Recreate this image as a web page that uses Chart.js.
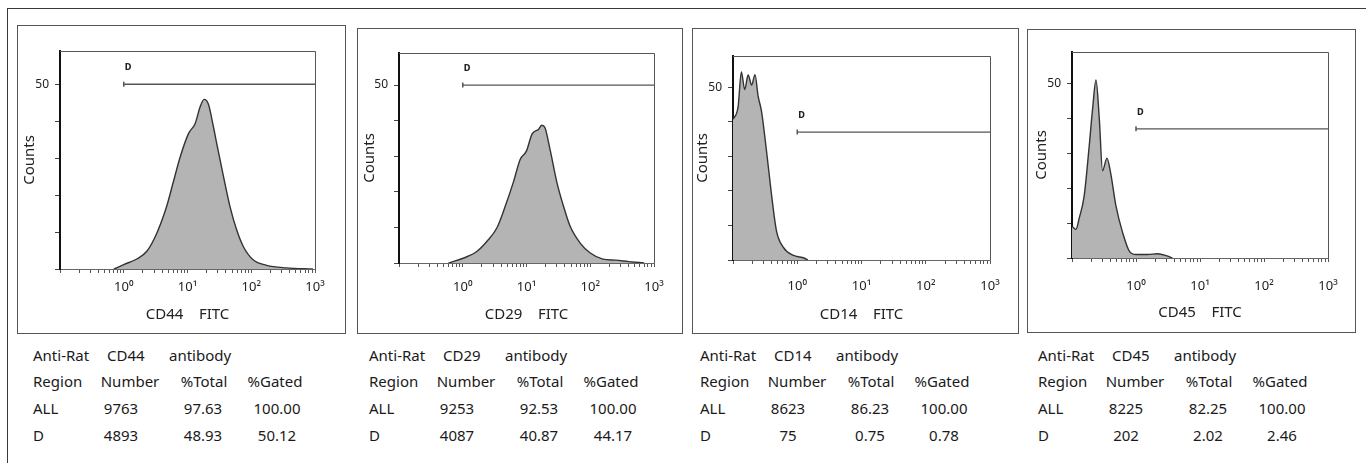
<!DOCTYPE html>
<html>
<head>
<meta charset="utf-8">
<script src="https://cdn.jsdelivr.net/npm/chart.js@4.4.1/dist/chart.umd.min.js"></script>
<style>
  html, body { margin: 0; padding: 0; background: #fff; }
  body { width: 1366px; height: 463px; overflow: hidden; position: relative; font-family: "Noto Sans", sans-serif; color: #1a1a1a; }
  .outer { position: absolute; left: 7px; top: 8px; width: 1400px; height: 500px; border: 1px solid #3a3a3a; box-sizing: border-box; }
  .box { position: absolute; border: 1px solid #555; box-sizing: border-box; }
  canvas { position: absolute; }
  .cell { position: absolute; font-size: 15px; line-height: 20px; white-space: nowrap; }
  .mid { transform: translateX(-50%); }
</style>
</head>
<body>
<div class="outer"></div>
<div id="root"></div>
<script>
// ---- data ----
const markers = ['CD44', 'CD29', 'CD14', 'CD45'];
const gateLevel = [50, 50, 37, 37];

const cd44X = [0.7, 1.0, 1.6, 2.3, 3.3, 4.7, 6.0, 7.7, 10.4, 13.2, 15.8, 18.2, 21.3, 25.5, 28.7, 36.5, 46.4, 59, 75, 107, 174, 355, 930];
const cd44Counts = [0, 1.2, 2.7, 4.8, 9.7, 16.9, 23.6, 30.4, 36.7, 39.4, 43.9, 45.9, 44.6, 38.5, 34.0, 25.2, 16.9, 10.6, 6.1, 2.5, 1.0, 0.3, 0];

const cd29X = [0.6, 1.04, 1.68, 2.4, 3.44, 4.65, 6.3, 7.95, 10, 12.2, 15.5, 17.4, 19.5, 23.4, 30, 38, 48.4, 69.5, 100, 158, 250, 400, 700];
const cd29Counts = [0, 1.4, 3.3, 6.1, 9.9, 16.0, 23.0, 29.1, 31.5, 36.2, 37.6, 38.7, 38.0, 31.9, 22.6, 16.0, 10.3, 5.6, 2.8, 1.1, 0.8, 0.4, 0];

const cd14X = [0.1, 0.12, 0.135, 0.152, 0.172, 0.195, 0.22, 0.246, 0.277, 0.332, 0.396, 0.473, 0.6, 0.857, 1.3, 1.46];
const cd14Counts = [40.7, 44.3, 54.4, 49.3, 53.5, 50.6, 53.6, 47.4, 43.1, 31.6, 19.2, 8.6, 3.8, 1.4, 0.5, 0];

const cd45X = [0.1, 0.115, 0.13, 0.155, 0.186, 0.21, 0.237, 0.267, 0.3, 0.352, 0.4, 0.486, 0.62, 0.79, 1.0, 1.52, 2.18, 2.95, 3.7];
const cd45Counts = [9.1, 8.2, 11.5, 17.8, 32.2, 42.8, 51, 39.9, 25, 28.6, 24.5, 14.9, 7.2, 1.9, 1.0, 1.0, 1.2, 0.7, 0];

const yTickValues = [0, 10, 20, 30, 40, 50];
const xDecades = [-1, 0, 1, 2];

const headers = ['Region', 'Number', '%Total', '%Gated'];
const allNumber = ['9763', '9253', '8623', '8225'];
const allTotal = ['97.63', '92.53', '86.23', '82.25'];
const allGated = ['100.00', '100.00', '100.00', '100.00'];
const dNumber = ['4893', '4087', '75', '202'];
const dTotal = ['48.93', '40.87', '0.75', '2.02'];
const dGated = ['50.12', '44.17', '0.78', '2.46'];

const seriesX = [cd44X, cd29X, cd14X, cd45X];
const seriesY = [cd44Counts, cd29Counts, cd14Counts, cd45Counts];

// ---- layout (pixel boxes measured on the reference) ----
const panels = [
  { box: [17, 25, 345, 333], area: [60, 51, 315, 269], labelY: 287, titleY: 315, countsX: 30, text: 33 },
  { box: [357, 28, 682, 333], area: [399, 53, 654, 263], labelY: 287, titleY: 315, countsX: 370, text: 369 },
  { box: [692, 28, 1018, 333], area: [733, 56, 990, 260], labelY: 286, titleY: 315, countsX: 703, text: 700 },
  { box: [1027, 29, 1355, 332], area: [1072, 52, 1328, 258], labelY: 286, titleY: 313, countsX: 1042, text: 1038 }
];

const sup = { '0': '\u2070', '1': '\u00B9', '2': '\u00B2', '3': '\u00B3' };
const logTicks = [];
xDecades.forEach(d => { for (let k = 1; k <= 9; k++) logTicks.push(k * Math.pow(10, d)); });
logTicks.push(1000);

const root = document.getElementById('root');

function addCell(txt, x, y, centered) {
  const s = document.createElement('span');
  s.className = 'cell' + (centered ? ' mid' : '');
  s.textContent = txt;
  s.style.left = x + 'px';
  s.style.top = (y - 10) + 'px';
  root.appendChild(s);
}

const framePlugin = {
  id: 'frame',
  afterDatasetsDraw(chart, args, opts) {
    const { ctx, chartArea: a, scales } = chart;
    ctx.save();
    ctx.strokeStyle = '#555';
    ctx.lineWidth = 1;
    ctx.beginPath();
    ctx.moveTo(a.left, a.top + 0.5);
    ctx.lineTo(a.right + 0.5, a.top + 0.5);
    ctx.lineTo(a.right + 0.5, a.bottom);
    ctx.stroke();
    ctx.fillStyle = '#222';
    ctx.font = 'bold 8px "DejaVu Sans"';
    ctx.textBaseline = 'middle';
    ctx.fillText('D', scales.x.getPixelForValue(1) + 1, scales.y.getPixelForValue(opts.gate) - 16);
    ctx.restore();
  }
};

panels.forEach((p, i) => {
  const [L, T, R, B] = p.box;
  const [aL, aT, aR, aB] = p.area;

  const box = document.createElement('div');
  box.className = 'box';
  box.style.left = L + 'px';
  box.style.top = T + 'px';
  box.style.width = (R - L + 1) + 'px';
  box.style.height = (B - T + 1) + 'px';
  root.appendChild(box);

  const cv = document.createElement('canvas');
  cv.width = R - L - 1;
  cv.height = B - T - 1;
  cv.style.left = (L + 1) + 'px';
  cv.style.top = (T + 1) + 'px';
  root.appendChild(cv);

  const pts = seriesX[i].map((x, j) => ({ x: x, y: seriesY[i][j] }));

  new Chart(cv, {
    type: 'line',
    data: {
      datasets: [
        {
          data: pts,
          borderColor: '#333',
          borderWidth: 1.4,
          backgroundColor: '#b4b4b4',
          fill: 'origin',
          pointRadius: 0,
          cubicInterpolationMode: 'monotone'
        },
        {
          data: [{ x: 1, y: gateLevel[i] }, { x: 1000, y: gateLevel[i] }],
          borderColor: '#555',
          borderWidth: 1.3,
          pointStyle: 'line',
          rotation: 90,
          pointRadius: [2.5, 0],
          pointBorderColor: '#555',
          pointBorderWidth: 1.5,
          fill: false
        }
      ]
    },
    options: {
      responsive: false,
      animation: false,
      layout: { padding: { top: aT - T - 1, right: R - aR, left: 0, bottom: 0 } },
      plugins: { legend: { display: false }, tooltip: { enabled: false }, frame: { gate: gateLevel[i] } },
      scales: {
        x: {
          type: 'logarithmic',
          min: 0.1,
          max: 1000,
          afterBuildTicks: s => { s.ticks = logTicks.map(v => ({ value: v })); },
          afterFit: s => { s.height = B - aB; },
          ticks: {
            autoSkip: false,
            maxRotation: 0,
            padding: p.labelY - aB - 4 - 7.8,
            color: '#222',
            font: { family: 'Noto Sans', size: 13 },
            callback: v => {
              const e = Math.round(Math.log10(v));
              if (e < 0 || Math.abs(v - Math.pow(10, e)) > 1e-9) return '';
              return '10' + sup[String(e)];
            }
          },
          grid: { drawOnChartArea: false, tickLength: 4, tickColor: '#555' },
          border: { color: '#666', width: 1 },
          title: {
            display: true,
            text: markers[i] + '    FITC',
            color: '#222',
            font: { family: 'Noto Sans', size: 15 },
            padding: { top: 0, bottom: B - p.titleY - 9 }
          }
        },
        y: {
          min: 0,
          max: 59,
          afterBuildTicks: s => { s.ticks = yTickValues.map(v => ({ value: v })); },
          afterFit: s => { s.width = aL - L - 1; },
          ticks: {
            padding: 6,
            color: '#222',
            font: { family: 'Noto Sans', size: 12 },
            callback: v => (v === 50 ? '50' : '')
          },
          grid: { drawOnChartArea: false, tickLength: 5, tickColor: '#444' },
          border: { color: '#111', width: 2 },
          title: {
            display: true,
            text: 'Counts',
            color: '#222',
            font: { family: 'Noto Sans', size: 15 },
            padding: { top: p.countsX - L - 1 - 9, bottom: 0 }
          }
        }
      }
    },
    plugins: [framePlugin]
  });

  // statistics table under the histogram
  const o = p.text;
  addCell('Anti-Rat', o, 355, false);
  addCell(markers[i], o + 74, 355, false);
  addCell('antibody', o + 136, 355, false);
  addCell(headers[0], o, 381, false);
  addCell(headers[1], o + 97, 381, true);
  addCell(headers[2], o + 171, 381, true);
  addCell(headers[3], o + 242, 381, true);
  addCell('ALL', o, 408, false);
  addCell(allNumber[i], o + 88, 408, true);
  addCell(allTotal[i], o + 170, 408, true);
  addCell(allGated[i], o + 244, 408, true);
  addCell('D', o, 435, false);
  addCell(dNumber[i], o + 88, 435, true);
  addCell(dTotal[i], o + 170, 435, true);
  addCell(dGated[i], o + 244, 435, true);
});
</script>
</body>
</html>
